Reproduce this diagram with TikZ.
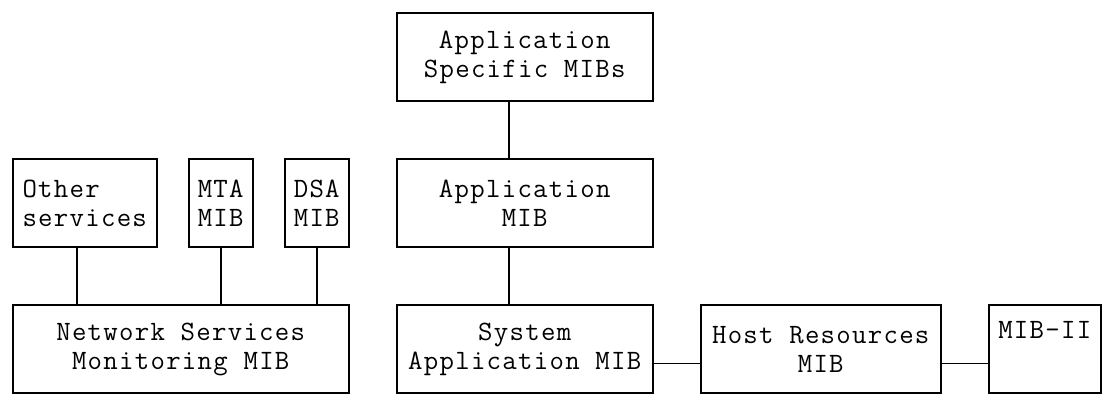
\documentclass[tikz,border=0pt]{standalone}
\usepackage{fontspec}
\setmonofont{Latin Modern Mono}[LetterSpace=4.6]
\usepackage{tikz}
\def\mibnode{\node[draw,inner sep=0pt,align=center,font=\ttfamily\fontsize{14}{14.6}\selectfont]}

\begin{document}
\begin{tikzpicture}[x=8pt,y=-14.6pt,line width=0.8pt]
\useasboundingbox (-0.794,-0.455) rectangle (68.08,13.35);
\mibnode[minimum width=128pt,minimum height=43.8pt] (spec) at (32,1.5) {Application\\Specific MIBs};
\mibnode[minimum width=72pt,minimum height=43.8pt,align=left] (other) at (4.5,6.5) {Other\\services};
\mibnode[minimum width=32pt,minimum height=43.8pt] (mta) at (13,6.5) {MTA\\MIB};
\mibnode[minimum width=32pt,minimum height=43.8pt] (dsa) at (19,6.5) {DSA\\MIB};
\mibnode[minimum width=128pt,minimum height=43.8pt] (app) at (32,6.5) {Application\\MIB};
\mibnode[minimum width=168pt,minimum height=43.8pt] (nsm) at (10.5,11.5) {Network Services\\Monitoring MIB};
\mibnode[minimum width=128pt,minimum height=43.8pt] (sys) at (32,11.5) {System\\Application MIB};
\mibnode[minimum width=120pt,minimum height=43.8pt] (host) at (50.5,11.5) {Host Resources\\MIB};
\mibnode[minimum width=56pt,minimum height=43.8pt] (mibii) at (64.5,11.5) {MIB-II\\\strut};
\coordinate (otherdown) at ([xshift=-4pt]other.south);
\draw ([xshift=-8pt]spec.south) -- ([xshift=-8pt]app.north);
\draw ([xshift=-8pt]app.south) -- ([xshift=-8pt]sys.north);
\draw (otherdown) -- (otherdown |- nsm.north);
\draw (mta.south) -- (mta.south |- nsm.north);
\draw (dsa.south) -- (dsa.south |- nsm.north);
\draw ([yshift=-7.3pt]sys.east) -- ([yshift=-7.3pt]host.west);
\draw ([yshift=-7.3pt]host.east) -- ([yshift=-7.3pt]mibii.west);
\end{tikzpicture}
\end{document}
